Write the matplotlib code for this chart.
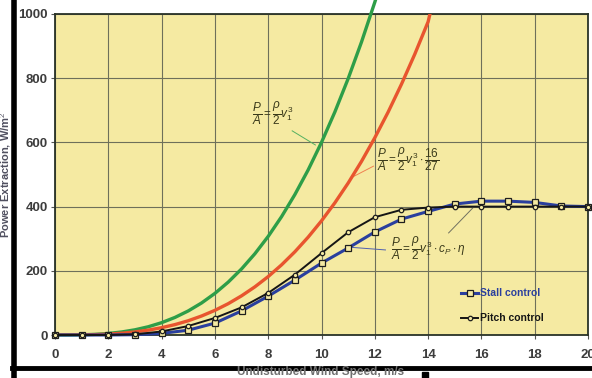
import matplotlib
matplotlib.use("Agg")
import matplotlib.pyplot as plt
from matplotlib.lines import Line2D
from matplotlib.patches import Rectangle

# --- data ---
v_ideal = [0, 0.5, 1, 1.5, 2, 2.5, 3, 3.5, 4, 4.5, 5, 5.5, 6, 6.5, 7, 7.5,
           8, 8.5, 9, 9.5, 10, 10.5, 11, 11.5, 12, 12.2]
p_ideal = [0, 0.1, 0.6, 2.0, 4.8, 9.4, 16.2, 25.7, 38.4, 54.7, 75, 99.8, 129.6,
           164.8, 205.8, 253.1, 307.2, 368.5, 437.4, 514.4, 600, 694.6, 798.6,
           912.5, 1036.8, 1089.5]

v_betz = [0, 0.5, 1, 1.5, 2, 2.5, 3, 3.5, 4, 4.5, 5, 5.5, 6, 6.5, 7, 7.5, 8,
          8.5, 9, 9.5, 10, 10.5, 11, 11.5, 12, 12.5, 13, 13.5, 14, 14.07]
p_betz = [0, 0.04, 0.4, 1.2, 2.8, 5.6, 9.6, 15.2, 22.8, 32.4, 44.4, 59.2, 76.8,
          97.6, 122.0, 150.0, 182.0, 218.4, 259.2, 304.9, 355.6, 411.6, 473.3,
          540.7, 614.4, 694.4, 781.2, 874.8, 975.7, 1000]

v_ctrl = list(range(0, 21))
p_stall = [0, 0, 0, 1, 5, 15, 37, 75, 121, 171, 224, 271, 321, 361, 385, 408,
           417, 417, 413, 402, 400]
p_pitch = [0, 0, 0, 2, 11, 28, 53, 86, 131, 188, 255, 320, 367, 390, 397, 400,
           400, 400, 400, 400, 400]

x_ticks = [0, 2, 4, 6, 8, 10, 12, 14, 16, 18, 20]
y_ticks = [0, 200, 400, 600, 800, 1000]

plt.rcParams['font.family'] = ['Liberation Sans', 'DejaVu Sans']
plt.rcParams['mathtext.fontset'] = 'custom'
plt.rcParams['mathtext.rm'] = 'Liberation Sans'
plt.rcParams['mathtext.it'] = 'Liberation Sans:italic'

W, H = 592, 378
fig = plt.figure(figsize=(W / 100, H / 100), dpi=100, facecolor='white')
ax = fig.add_axes([55 / W, 43 / H, 533 / W, 321 / H])
ax.set_facecolor('#f5eaa2')

grid_c = '#6e705a'
ax.set_xlim(0, 20)
ax.set_ylim(0, 1000)
ax.set_xticks(x_ticks)
ax.set_yticks(y_ticks)
ax.grid(True, color=grid_c, lw=0.8)
ax.set_axisbelow(True)
for s in ax.spines.values():
    s.set_color('#2a3328')
    s.set_linewidth(1.3)
ax.tick_params(length=3, width=0.8, color='#555555', labelsize=9.5,
               labelcolor='#3c3c3c', pad=2)
ax.tick_params(axis='x', pad=7)
for lb in ax.get_xticklabels() + ax.get_yticklabels():
    lb.set_fontweight('bold')

ax.plot(v_ideal, p_ideal, color='#2e9e48', lw=2.4, clip_on=False, zorder=3)
ax.plot(v_betz, p_betz, color='#e8552e', lw=2.4, zorder=3)
ax.plot(v_ctrl, p_stall, color='#2a3f9e', lw=2.2, marker='s', ms=4,
        mfc='#f5eaa2', mec='#1e1e1e', mew=0.9, label='Stall control', zorder=4,
        clip_on=False)
ax.plot(v_ctrl, p_pitch, color='#151515', lw=1.4, marker='o', ms=3.2,
        mfc='#f5eaa2', mec='#1e1e1e', mew=0.9, label='Pitch control', zorder=5,
        clip_on=False)

eq_c = '#3a3a1a'
ax.text(7.4, 690, r'$\dfrac{P}{A}=\dfrac{\rho}{2}v_1^3$', fontsize=8.5, color=eq_c,
        va='center', ha='left')
ax.plot([8.9, 9.77], [636, 592], color='#55b060', lw=0.7)
ax.text(12.1, 545, r'$\dfrac{P}{A}=\dfrac{\rho}{2}v_1^3\cdot\dfrac{16}{27}$', fontsize=8.5,
        color=eq_c, va='center', ha='left')
ax.plot([11.09, 11.95], [489, 526], color='#f08050', lw=0.7)
ax.text(12.6, 270, r'$\dfrac{P}{A}=\dfrac{\rho}{2}v_1^3\cdot c_P\cdot\eta$', fontsize=8.5,
        color=eq_c, va='center', ha='left')
ax.plot([10.98, 12.4], [274, 265], color='#5060b0', lw=0.7)
ax.plot([14.77, 15.68], [318, 396], color='#707060', lw=0.7)

leg = ax.legend(loc='upper left', bbox_to_anchor=(452 / W, 1 - 279 / H),
                bbox_transform=fig.transFigure, frameon=False,
                handlelength=1.6, handletextpad=0.2, labelspacing=1.45,
                labelcolor=['#2a3f9e', '#151515'], prop={'weight': 'bold', 'size': 7.5})

fig.text(6 / W, 1 - 175 / H, 'Power Extraction, W/m$^2$', rotation=90,
         ha='center', va='center', fontsize=8, color='#505060', fontweight='bold')

# scan frame bits
fig.add_artist(Line2D([14 / W, 14 / W], [0, 1], color='black', lw=4))
fig.add_artist(Line2D([12 / W, 1], [1 - 368 / H, 1 - 368 / H], color='black', lw=3.5))
fig.add_artist(Rectangle((422 / W, 0), 6 / W, 6 / H, color='black'))
fig.text(321 / W, 1 - 372.5 / H, 'Undisturbed Wind Speed, m/s', ha='center',
         va='center', fontsize=8.5, color='#707070', fontweight='bold')

fig.savefig('out.png', dpi=100, facecolor='white')
